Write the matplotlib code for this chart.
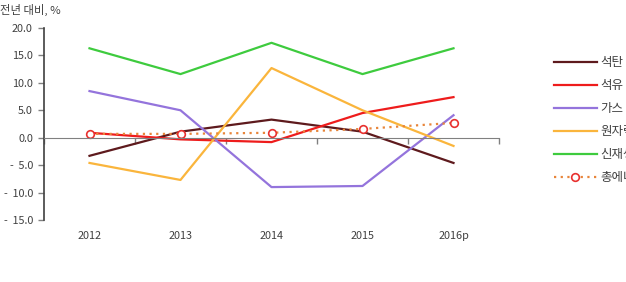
"""Year-on-year change in primary energy consumption by source."""

import matplotlib
matplotlib.use("Agg")
import matplotlib.pyplot as plt
from matplotlib.transforms import blended_transform_factory

plt.rcParams["font.family"] = ["Noto Sans CJK KR", "DejaVu Sans"]

years = ["2012", "2013", "2014", "2015", "2016p"]
coal = [-3.3, 1.1, 3.3, 1.1, -4.6]
oil = [0.9, -0.3, -0.8, 4.5, 7.4]
gas = [8.5, 5.0, -9.0, -8.8, 4.1]
nuclear = [-4.6, -7.7, 12.7, 5.0, -1.5]
renewable = [16.3, 11.6, 17.3, 11.6, 16.3]
total = [0.7, 0.7, 0.9, 1.6, 2.7]
y_ticks = [-15, -10, -5, 0, 5, 10, 15, 20]

fig = plt.figure(figsize=(6.26, 2.82), dpi=100)
ax = fig.add_axes([44 / 626, 1 - 220 / 282, 455 / 626, 192 / 282])

x = list(range(len(years)))
lw = 1.6
ax.plot(x, coal, color="#5e1a1d", lw=lw, label="석탄")
ax.plot(x, oil, color="#ee1c1c", lw=lw, label="석유")
ax.plot(x, gas, color="#9474dc", lw=lw, label="가스")
ax.plot(x, nuclear, color="#fab53c", lw=lw, label="원자력")
ax.plot(x, renewable, color="#3ecb3e", lw=lw, label="신재생")
ax.plot(x, total, color="#e8853a", lw=1.6, ls=(0, (1, 2)), marker="o", ms=5.5,
        mfc="white", mec="#e8312f", mew=1.2, label="총에너지")

ax.set_xlim(-0.5, len(years) - 0.5)
ax.set_ylim(-15, 20)
ax.set_yticks(y_ticks)
ax.set_yticklabels([f"{v:.1f}" if v >= 0 else f"-  {abs(v):.1f}" for v in y_ticks],
                   fontsize=7.8, color="#404040")
ax.set_xticks([i + 0.5 for i in range(-1, len(years))])
ax.set_xticklabels([])
ax.tick_params(axis="y", length=4, width=1, color="#808080", pad=4)
ax.tick_params(axis="x", length=4, width=1, color="#808080", direction="out")

for s in ("top", "right"):
    ax.spines[s].set_visible(False)
ax.spines["bottom"].set_position(("data", 0))
ax.spines["bottom"].set_color("#808080")
ax.spines["left"].set_color("#404040")
ax.spines["left"].set_linewidth(1.2)

tr = blended_transform_factory(ax.transData, ax.transAxes)
for i, yr in enumerate(years):
    ax.text(i, -0.083, yr, transform=tr, ha="center", va="center",
            fontsize=7.8, color="#404040")

fig.text(0.0, 1 - 10 / 282, "전년 대비, %", ha="left", va="center",
         fontsize=8.2, color="#404040")

ax.legend(loc="upper left", bbox_to_anchor=(554 / 626, 1 - 56 / 282),
          bbox_transform=fig.transFigure, frameon=False, fontsize=9,
          handlelength=3.4, handletextpad=0.3, labelspacing=0.8,
          borderaxespad=0, borderpad=0, labelcolor="#404040")

fig.savefig("out.png", dpi=100)
